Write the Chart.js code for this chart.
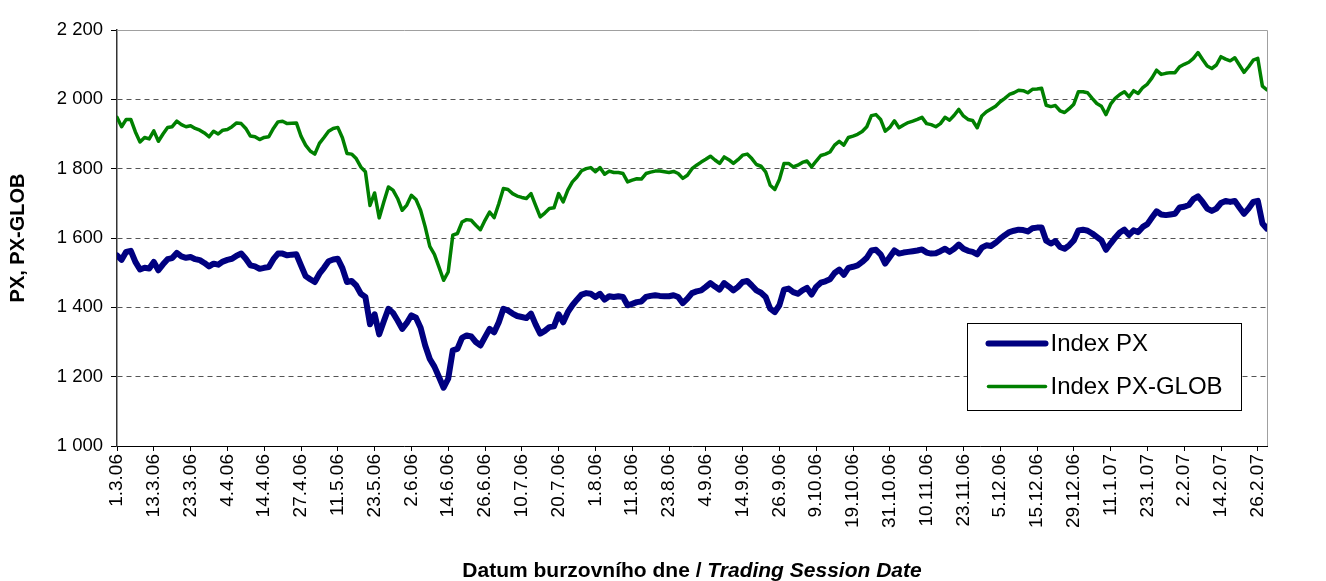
<!DOCTYPE html>
<html>
<head>
<meta charset="utf-8">
<script src="https://cdn.jsdelivr.net/npm/chart.js@4.4.0/dist/chart.umd.min.js"></script>
<style>
  html, body { margin: 0; padding: 0; background: #fff; }
  #wrap { width: 1326px; height: 581px; }
</style>
</head>
<body>
<div id="wrap"><canvas id="pxChart" width="1326" height="581"></canvas></div>
<script>
// every 8th trading session gets a label
const tickLabels = ['1.3.06', '13.3.06', '23.3.06', '4.4.06', '14.4.06', '27.4.06', '11.5.06', '23.5.06',
    '2.6.06', '14.6.06', '26.6.06', '10.7.06', '20.7.06', '1.8.06', '11.8.06', '23.8.06',
    '4.9.06', '14.9.06', '26.9.06', '9.10.06', '19.10.06', '31.10.06', '10.11.06', '23.11.06',
    '5.12.06', '15.12.06', '29.12.06', '11.1.07', '23.1.07', '2.2.07', '14.2.07', '26.2.07'];
const tickEvery = 8;

// Index PX, one value per trading session
const pxValues = [
    1550, 1537, 1560, 1563, 1531, 1509, 1514, 1512, 1531, 1507, 1524, 1539, 1542, 1557, 1547, 1543,
    1545, 1539, 1536, 1528, 1518, 1526, 1523, 1532, 1537, 1540, 1549, 1555, 1540, 1521, 1518, 1511,
    1514, 1516, 1539, 1555, 1555, 1550, 1552, 1553, 1521, 1490, 1481, 1473, 1497, 1514, 1533, 1538,
    1540, 1513, 1473, 1476, 1463, 1439, 1430, 1351, 1380, 1322, 1360, 1396, 1384, 1362, 1338, 1355,
    1377, 1370, 1341, 1290, 1251, 1229, 1199, 1168, 1194, 1276, 1280, 1312, 1319, 1316, 1300, 1290,
    1314, 1338, 1328, 1357, 1396, 1391, 1382, 1375, 1372, 1369, 1382, 1351, 1324, 1332, 1343, 1345,
    1380, 1357, 1386, 1406, 1422, 1437, 1441, 1439, 1430, 1439, 1422, 1432, 1430, 1432, 1430, 1406,
    1410, 1415, 1417, 1430, 1433, 1435, 1433, 1432, 1432, 1435, 1430, 1412, 1425, 1441, 1446, 1449,
    1459, 1470, 1460, 1451, 1470, 1460, 1449, 1459, 1473, 1476, 1463, 1449, 1442, 1430, 1396, 1386,
    1406, 1451, 1454, 1444, 1439, 1449, 1456, 1437, 1459, 1471, 1475, 1481, 1499, 1509, 1494, 1514,
    1517, 1521, 1531, 1543, 1564, 1566, 1553, 1526, 1545, 1564, 1555, 1558, 1560, 1562, 1564, 1567,
    1558, 1555, 1556, 1562, 1569, 1560, 1569, 1581, 1569, 1563, 1560, 1553, 1572, 1579, 1577, 1586,
    1598, 1608, 1617, 1621, 1624, 1623, 1619, 1628, 1630, 1630, 1592, 1584, 1591, 1574, 1569, 1579,
    1593, 1622, 1624, 1621, 1613, 1603, 1593, 1566, 1584, 1601, 1616, 1624, 1609, 1622, 1617, 1632,
    1640, 1659, 1677, 1668, 1666, 1668, 1670, 1688, 1690, 1695, 1712, 1720, 1704, 1685, 1678, 1685,
    1701, 1707, 1704, 1707, 1688, 1670, 1685, 1704, 1707, 1642, 1627
];

// Index PX-GLOB
const pxGlobValues = [
    1948, 1921, 1942, 1942, 1906, 1877, 1890, 1886, 1909, 1879, 1900, 1919, 1921, 1937, 1927, 1921,
    1924, 1916, 1911, 1903, 1892, 1908, 1900, 1911, 1913, 1921, 1932, 1930, 1916, 1894, 1892, 1884,
    1890, 1892, 1916, 1935, 1937, 1930, 1931, 1932, 1894, 1868, 1851, 1842, 1873, 1890, 1908, 1916,
    1919, 1889, 1844, 1842, 1829, 1805, 1791, 1694, 1730, 1658, 1704, 1747, 1738, 1714, 1680, 1695,
    1723, 1711, 1680, 1632, 1576, 1553, 1516, 1478, 1502, 1608, 1613, 1646, 1653, 1651, 1637, 1624,
    1651, 1675, 1659, 1699, 1743, 1740, 1728, 1721, 1717, 1714, 1728, 1694, 1661, 1672, 1685, 1687,
    1728, 1704, 1738, 1762, 1776, 1794, 1800, 1803, 1791, 1803, 1784, 1793, 1789, 1789, 1786, 1762,
    1767, 1771, 1770, 1786, 1790, 1793, 1793, 1791, 1789, 1792, 1786, 1772, 1781, 1800, 1810, 1819,
    1827, 1836, 1825, 1815, 1834, 1826, 1815, 1826, 1839, 1842, 1829, 1812, 1807, 1791, 1752, 1740,
    1769, 1815, 1815, 1805, 1810, 1818, 1822, 1805, 1822, 1838, 1842, 1848, 1868, 1879, 1868, 1890,
    1894, 1899, 1907, 1921, 1953, 1956, 1942, 1908, 1919, 1938, 1918, 1926, 1933, 1937, 1942, 1948,
    1930, 1927, 1921, 1930, 1948, 1940, 1954, 1971, 1952, 1942, 1939, 1918, 1952, 1964, 1972, 1980,
    1993, 2003, 2014, 2019, 2026, 2025, 2019, 2029, 2030, 2032, 1983, 1979, 1982, 1967, 1962, 1973,
    1986, 2022, 2022, 2019, 2003, 1988, 1980, 1956, 1986, 2003, 2014, 2022, 2007, 2025, 2017, 2034,
    2044, 2062, 2084, 2072, 2075, 2077, 2077, 2094, 2101, 2107, 2118, 2135, 2115, 2096, 2089, 2099,
    2123, 2116, 2111, 2120, 2099, 2078, 2094, 2113, 2118, 2038, 2027
];

const seriesNames = ['Index PX', 'Index PX-GLOB'];
const seriesColours = ['#000080', '#008000'];
const seriesWidths = [6, 3.5];

const yTitle = 'PX, PX-GLOB';
const xTitleParts = ['Datum burzovního dne / ', 'Trading Session Date'];

const fontFamily = "'Liberation Sans', Arial, sans-serif";

function toPoints(values) {
    return values.map((v, i) => ({ x: i, y: v }));
}

function spaced(n) {
    return String(n).replace(/\B(?=(\d{3})+(?!\d))/g, ' ');
}

// titles, legend box and plot frame drawn by hand
const decorations = {
    id: 'decorations',
    beforeDatasetsDraw(chart) {
        const ctx = chart.ctx;
        const a = chart.chartArea;
        ctx.save();
        ctx.strokeStyle = '#a0a0a0';
        ctx.lineWidth = 1;
        ctx.beginPath();
        ctx.moveTo(a.left, a.top + 0.5);
        ctx.lineTo(a.right + 0.5, a.top + 0.5);
        ctx.lineTo(a.right + 0.5, a.bottom);
        ctx.stroke();
        ctx.restore();
    },
    afterDraw(chart) {
        const ctx = chart.ctx;
        const a = chart.chartArea;
        ctx.save();
        ctx.fillStyle = '#000';

        // y axis title
        ctx.save();
        ctx.translate(18, (a.top + a.bottom) / 2);
        ctx.rotate(-Math.PI / 2);
        ctx.font = 'bold 20px ' + fontFamily;
        ctx.textAlign = 'center';
        ctx.textBaseline = 'middle';
        ctx.fillText(yTitle, 0, 0);
        ctx.restore();

        // x axis title, second half in italics
        const f1 = 'bold 21px ' + fontFamily;
        const f2 = 'italic bold 21px ' + fontFamily;
        ctx.font = f1;
        const w1 = ctx.measureText(xTitleParts[0]).width;
        ctx.font = f2;
        const w2 = ctx.measureText(xTitleParts[1]).width;
        let x = (a.left + a.right) / 2 - (w1 + w2) / 2;
        ctx.textBaseline = 'middle';
        ctx.textAlign = 'left';
        ctx.font = f1;
        ctx.fillText(xTitleParts[0], x, 571);
        ctx.font = f2;
        ctx.fillText(xTitleParts[1], x + w1, 571);

        // legend
        const box = { x: 967.5, y: 323.5, w: 274, h: 87 };
        ctx.fillStyle = '#fff';
        ctx.fillRect(box.x, box.y, box.w, box.h);
        ctx.strokeStyle = '#000';
        ctx.lineWidth = 1;
        ctx.strokeRect(box.x, box.y, box.w, box.h);
        ctx.font = '24px ' + fontFamily;
        ctx.textBaseline = 'middle';
        chart.data.datasets.forEach((ds, i) => {
            const y = box.y + 20 + i * 43;
            ctx.strokeStyle = ds.borderColor;
            ctx.lineWidth = ds.borderWidth;
            ctx.lineCap = 'round';
            ctx.beginPath();
            ctx.moveTo(box.x + 21, y);
            ctx.lineTo(box.x + 78, y);
            ctx.stroke();
            ctx.fillStyle = '#000';
            ctx.fillText(ds.label, box.x + 83, y + 1);
        });
        ctx.restore();
    }
};

const ctx = document.getElementById('pxChart').getContext('2d');

new Chart(ctx, {
    type: 'line',
    data: {
        datasets: [
            {
                label: seriesNames[0],
                data: toPoints(pxValues),
                borderColor: seriesColours[0],
                borderWidth: seriesWidths[0],
                pointRadius: 0,
                tension: 0,
                borderJoinStyle: 'round',
                borderCapStyle: 'round'
            },
            {
                label: seriesNames[1],
                data: toPoints(pxGlobValues),
                borderColor: seriesColours[1],
                borderWidth: seriesWidths[1],
                pointRadius: 0,
                tension: 0,
                borderJoinStyle: 'round',
                borderCapStyle: 'round'
            }
        ]
    },
    options: {
        responsive: false,
        animation: false,
        devicePixelRatio: 1,
        layout: { padding: { top: 30, right: 59, bottom: 0, left: 0 } },
        plugins: {
            legend: { display: false },
            tooltip: { enabled: false }
        },
        scales: {
            x: {
                type: 'linear',
                min: 0,
                max: pxValues.length - 1,
                afterFit: (scale) => { scale.height = 135; },
                grid: { drawOnChartArea: false, tickLength: 5, color: '#000' },
                border: { color: '#000', width: 1 },
                ticks: {
                    stepSize: tickEvery,
                    includeBounds: false,
                    autoSkip: false,
                    minRotation: 90,
                    maxRotation: 90,
                    padding: 3,
                    color: '#000',
                    font: { family: fontFamily, size: 19 },
                    callback: (v) => tickLabels[v / tickEvery] || ''
                }
            },
            y: {
                min: 1000,
                max: 2200,
                afterFit: (scale) => { scale.width = 117; },
                grid: { color: '#555', lineWidth: 1, tickLength: 6, tickColor: '#000' },
                border: { color: '#333', width: 1.5, dash: [5, 4] },
                ticks: {
                    stepSize: 200,
                    padding: 8,
                    color: '#000',
                    font: { family: fontFamily, size: 18.5 },
                    callback: (v) => spaced(v)
                }
            }
        }
    },
    plugins: [decorations]
});
</script>
</body>
</html>
